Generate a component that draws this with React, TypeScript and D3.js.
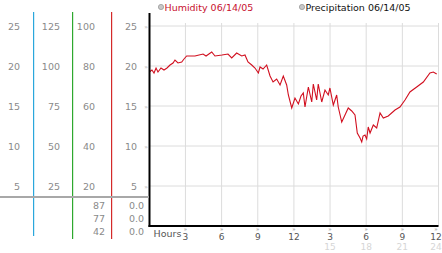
import React from "react";
import * as d3 from "d3";

const hours = [0,0.22,0.39,0.56,0.72,0.97,1.22,1.47,1.72,1.97,2.13,2.38,2.69,2.88,3.1,3.79,4.46,4.71,5.18,5.45,6.03,6.53,6.84,7.25,7.67,7.94,8.19,8.5,8.77,9.05,9.19,9.44,9.74,10.02,10.27,10.57,10.85,11.12,11.4,11.54,11.82,12.09,12.37,12.59,12.78,12.92,13.2,13.48,13.61,13.89,14.02,14.31,14.58,14.85,14.99,15.27,15.55,15.68,15.97,16.24,16.51,16.8,17.07,17.26,17.49,17.63,17.74,17.9,18.04,18.17,18.32,18.59,18.87,19.15,19.42,19.83,20.39,20.8,21.22,21.63,22.19,22.74,23.29,23.57,23.85];
const humidity = [77,78,76.5,79,77,79,78,79,80.5,81.5,83,81.5,82,83.5,85,85,86,85,87,85,85.5,86,84,86.5,85,85.5,82,80.5,79,76.5,79.5,78.5,80.5,75,72,73.5,70.5,75,70.5,65.5,59,64,61,65,66.5,59.5,69.5,62,71,63,71,62,68,65.5,69,60.5,65.5,59.5,52,55.5,59,57.5,55.5,46.5,44,42,45,45.5,43.5,49.5,46.5,50.5,49,56.5,54,55,58,59.5,63,67,69.5,72,76.5,77,76];

const col1Ticks = [25, 20, 15, 10, 5];
const col2Ticks = [125, 100, 75, 50, 25];
const col3Ticks = [100, 80, 60, 40, 20];
const col4Ticks = [25, 20, 15, 10, 5];
const humidityStats = ["87", "77", "42"];
const precipStats = ["0.0", "0.0", "0.0"];
const hourTicks = [3, 6, 9, 12, 15, 18, 21, 24];
const legendLabels = ["Humidity 06/14/05", "Precipitation 06/14/05"];

const FONT = "'DejaVu Sans', Verdana, sans-serif";

export default function App() {
  const x = d3.scaleLinear().domain([0, 24]).range([149.3, 438.5]);
  const y = d3.scaleLinear().domain([0, 25]).range([226, 26]);
  const yHum = d3.scaleLinear().domain([0, 100]).range([226, 26]);
  const line = d3
    .line<number>()
    .x((_, i) => x(hours[i]))
    .y((d) => yHum(d));

  const statRows = [208.5, 221.5, 235];
  const gray = "#8a8a8a";

  return (
    <svg
      width={442}
      height={253}
      style={{ position: "absolute", left: 0, top: 0, background: "#fff" }}
      fontFamily={FONT}
    >
      {/* legend */}
      <circle cx={161} cy={7} r={2.6} fill="#c8c8c8" stroke="#999" strokeWidth={0.8} />
      <text x={164.5} y={10.5} fontSize={9.5} fill="#c8102e">{legendLabels[0]}</text>
      <circle cx={302} cy={7} r={2.6} fill="#c8c8c8" stroke="#999" strokeWidth={0.8} />
      <text x={305.5} y={10.5} fontSize={9.5} fill="#111">{legendLabels[1]}</text>

      {/* plot grid */}
      {col4Ticks.map((t) => (
        <line key={"h" + t} x1={150} x2={439} y1={y(t)} y2={y(t)} stroke="#dcdcdc" strokeWidth={1} />
      ))}
      {hourTicks.map((h) => (
        <line key={"v" + h} x1={x(h)} x2={x(h)} y1={23} y2={226} stroke="#dcdcdc" strokeWidth={1} />
      ))}

      {/* humidity line */}
      <path d={line(humidity) || ""} fill="none" stroke="#d10f1f" strokeWidth={1.1} />

      {/* axes */}
      <line x1={149.5} x2={149.5} y1={13} y2={227} stroke="#000" strokeWidth={2} />
      <line x1={148.5} x2={438.5} y1={226} y2={226} stroke="#000" strokeWidth={2} />

      {/* left colored axes */}
      <rect x={33} y={12} width={1.2} height={224} fill="#2aa7dc" />
      <rect x={72} y={12} width={1.2} height={227} fill="#2ea82e" />
      <rect x={111} y={12} width={1.2} height={227} fill="#d42a2a" />
      <line x1={0} x2={149} y1={197} y2={197} stroke="#a8a8a8" strokeWidth={2} />

      {/* left tick labels */}
      {col1Ticks.map((t, i) => (
        <text key={"c1" + i} x={20} y={y(col4Ticks[i]) + 3.5} fontSize={9.5} fill={gray} textAnchor="end">{t}</text>
      ))}
      {col2Ticks.map((t, i) => (
        <text key={"c2" + i} x={60} y={y(col4Ticks[i]) + 3.5} fontSize={9.5} fill={gray} textAnchor="end">{t}</text>
      ))}
      {col3Ticks.map((t, i) => (
        <text key={"c3" + i} x={95} y={y(col4Ticks[i]) + 3.5} fontSize={9.5} fill={gray} textAnchor="end">{t}</text>
      ))}
      {col4Ticks.map((t, i) => (
        <text key={"c4" + i} x={137} y={y(t) + 3.5} fontSize={9.5} fill={gray} textAnchor="end">{t}</text>
      ))}
      {col4Ticks.map((t) => (
        <text key={"m" + t} x={146} y={y(t) + 2.5} fontSize={6} fill="#aaa" textAnchor="middle">»</text>
      ))}

      {/* stats rows */}
      {humidityStats.map((s, i) => (
        <text key={"hs" + i} x={105} y={statRows[i]} fontSize={9.5} fill={gray} textAnchor="end">{s}</text>
      ))}
      {precipStats.map((s, i) => (
        <text key={"ps" + i} x={144} y={statRows[i]} fontSize={9.5} fill={gray} textAnchor="end">{s}</text>
      ))}

      {/* hour axis */}
      <text x={153.5} y={236.5} fontSize={9.5} fill="#555">Hours</text>
      {hourTicks.map((h) => {
        const cx = Math.min(x(h), 436);
        return (
          <g key={"t" + h}>
            <text x={cx} y={230.5} fontSize={5.5} fill="#999" textAnchor="middle">»</text>
            <text x={cx} y={239.5} fontSize={9} fill="#555" textAnchor="middle">{h > 12 ? h - 12 : h}</text>
            {h > 12 && (
              <text x={cx} y={249.5} fontSize={9} fill="#d6d6d6" textAnchor="middle">{h}</text>
            )}
          </g>
        );
      })}
    </svg>
  );
}
